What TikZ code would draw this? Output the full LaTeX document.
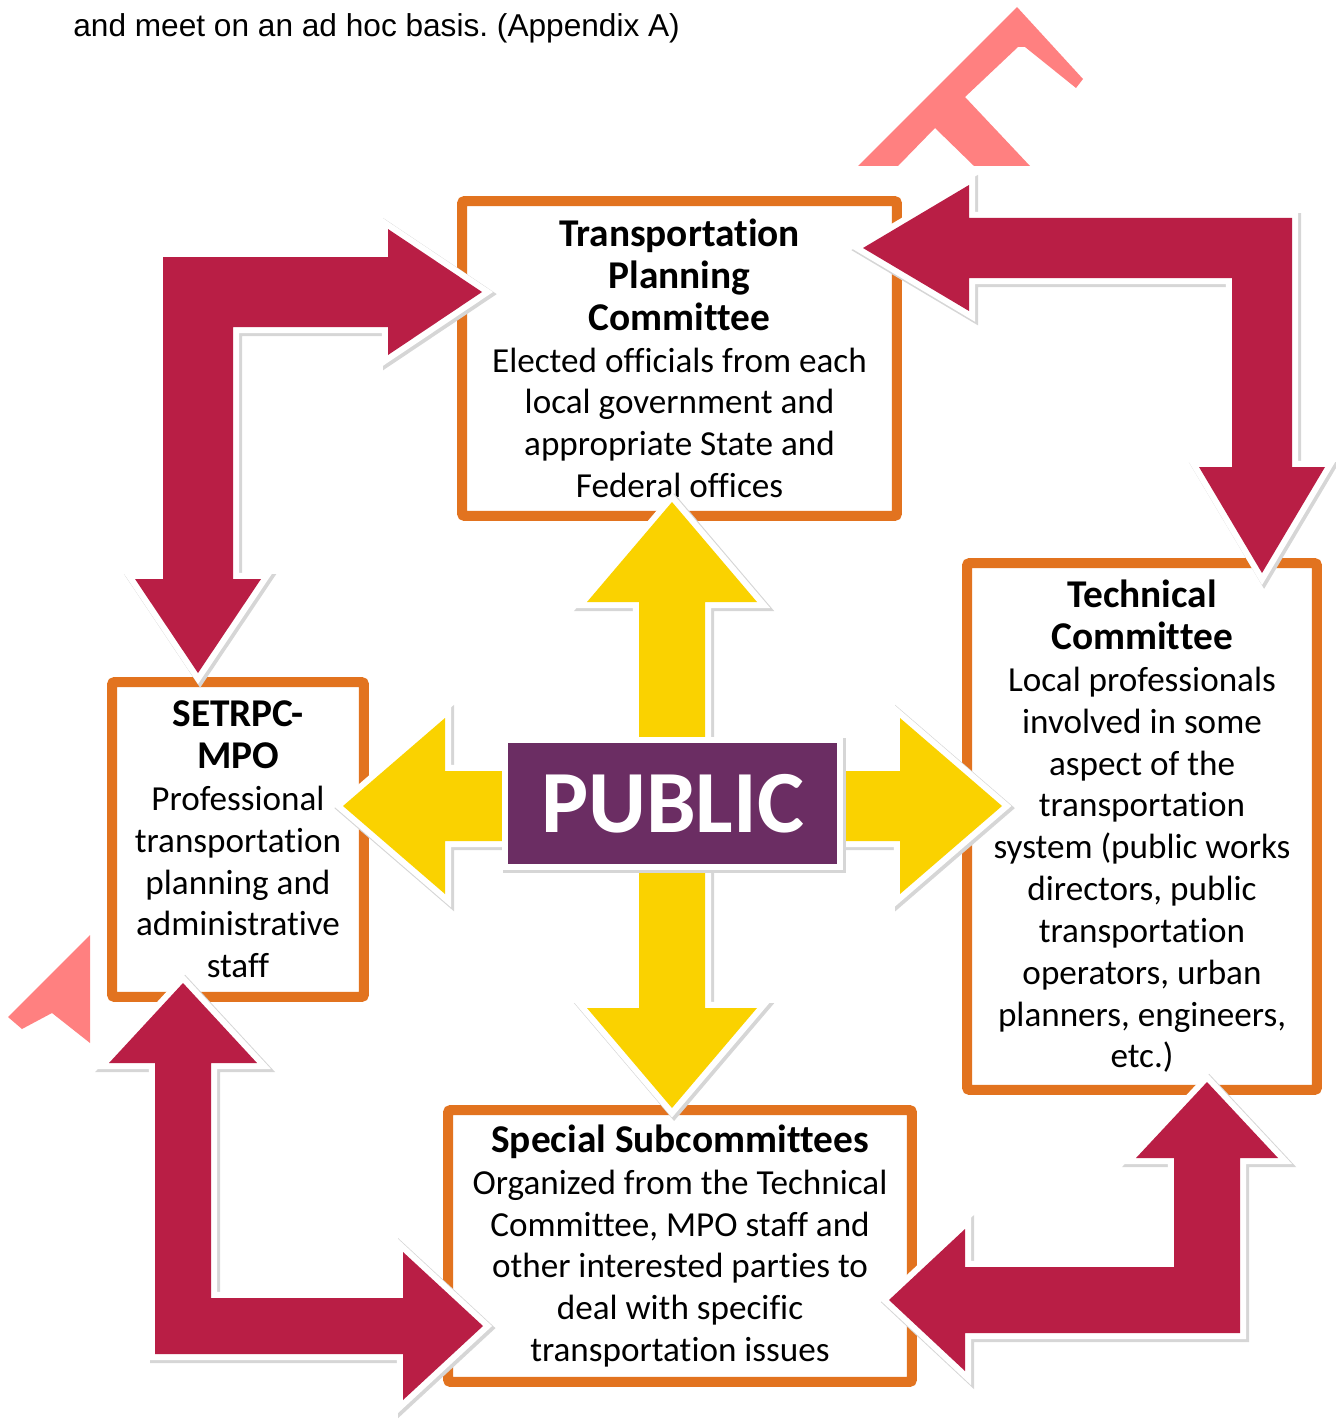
\documentclass[tikz,border=0pt]{standalone}
\usepackage{fontspec}
\setmainfont{Carlito}[Ligatures=NoCommon]
\newfontfamily\notefont{Liberation Sans}
\usepackage{tikz}
\usetikzlibrary{positioning}
\frenchspacing

\definecolor{boxorange}{HTML}{E2731F}
\definecolor{arrowred}{HTML}{B91E45}
\definecolor{arrowyellow}{HTML}{FAD200}
\definecolor{publicpurple}{HTML}{6B2D63}
\definecolor{markpink}{HTML}{FF8080}

\newcommand{\boxtitle}[1]{{\fontsize{22.4}{23.8}\selectfont\bfseries #1}}

% bent double arrow: colour, corner x, corner y, tip x, tip y, half bar, half head, head length
\newcommand{\elbowarrow}[8]{%
  \pgfmathsetmacro\dirx{2*(#4>#2)-1}%
  \pgfmathsetmacro\diry{2*(#5>#3)-1}%
  \fill[block, #1]
    ({#2-\dirx*#6},{#3-\diry*#6}) -- ({#4-\dirx*#8},{#3-\diry*#6})
    -- ({#4-\dirx*#8},{#3-\diry*#7}) -- (#4,#3)
    -- ({#4-\dirx*#8},{#3+\diry*#7}) -- ({#4-\dirx*#8},{#3+\diry*#6})
    -- ({#2+\dirx*#6},{#3+\diry*#6}) -- ({#2+\dirx*#6},{#5-\diry*#8})
    -- ({#2+\dirx*#7},{#5-\diry*#8}) -- (#2,#5)
    -- ({#2-\dirx*#7},{#5-\diry*#8}) -- ({#2-\dirx*#6},{#5-\diry*#8})
    -- cycle;}

\begin{document}
\begin{tikzpicture}[x=0.02cm, y=-0.02cm]
            \tikzstyle{committee} = [draw=boxorange, line width=5.7pt, fill=white, rounded corners=1.5pt, inner sep=0pt, align=center, font=\fontsize{20}{23.8}\selectfont]
            \tikzstyle{block} = [line join=miter,
                preaction={draw=black!16, line width=8pt, line join=miter, transform canvas={shift={(1.2pt,-1.2pt)}}},
                preaction={draw=white, line width=7pt, line join=miter}]
            \tikzstyle{public} = [fill=publicpurple, text=white, inner sep=0pt, minimum width=6.58cm, minimum height=2.42cm, font=\fontsize{50.5}{52}\selectfont\bfseries,
                preaction={draw=black!16, line width=8pt, transform canvas={shift={(1.2pt,-1.2pt)}}},
                preaction={draw=white, line width=6.8pt}]
            \useasboundingbox (0,0) rectangle (1335,1419);

            % Text above
            \node[anchor=base west, inner sep=0pt, font=\notefont\fontsize{18}{21}\selectfont] (note) at (73,37) {and meet on an ad hoc basis. (Appendix A)};

            % Marks
            \fill[markpink] (1017,7) -- (1083,79) -- (1076,88) -- (1025,47) -- (1018,47) -- (965,97) -- (1030,166) -- (974,166) -- (935,128) -- (898,166) -- (858,166) -- cycle;
            \fill[markpink] (90,935) -- (90,1043) -- (52,1013) -- (22,1029) -- (8,1017) -- cycle;

            % Committees
            \node[committee, minimum width=8.7cm, minimum height=6.3cm] (tpc) at (679.5,358.5)
                {\boxtitle{Transportation}\\ \boxtitle{Planning}\\ \boxtitle{Committee}\\ Elected officials from each\\ local government and\\ appropriate State and\\ Federal offices};
            \node[committee, minimum width=7cm, minimum height=10.54cm] (tech) at (1142,826.5)
                {\boxtitle{Technical}\\ \boxtitle{Committee}\\ Local professionals\\ involved in some\\ aspect of the\\ transportation\\ system (public works\\ directors, public\\ transportation\\ operators, urban\\ planners, engineers,\\ etc.)};
            \node[committee, minimum width=5.04cm, minimum height=6.3cm] (mpo) at (238,839.5)
                {\boxtitle{SETRPC-}\\ \boxtitle{MPO}\\ Professional\\ transportation\\ planning and\\ administrative\\ staff};
            \node[committee, minimum width=9.28cm, minimum height=5.44cm] (subc) at (680,1246)
                {\boxtitle{Special Subcommittees}\\ Organized from the Technical\\ Committee, MPO staff and\\ other interested parties to\\ deal with specific\\ transportation issues};

            % Public cross
            \fill[block, arrowyellow] (639,602) -- (587,602) -- (672,502) -- (757,602) -- (705,602) -- (705,1008) -- (757,1008) -- (672,1108) -- (587,1008) -- (639,1008) -- cycle;
            \fill[block, arrowyellow] (445,771) -- (445,718) -- (343,806) -- (445,894) -- (445,841) -- (900,841) -- (900,894) -- (1002,806) -- (900,718) -- (900,771) -- cycle;
            \node[public] (pub) at (672.5,803.5) {PUBLIC};

            % Bent arrows between committees
            \elbowarrow{arrowred}{198}{292}{482}{673}{35}{63}{94}
            \elbowarrow{arrowred}{1262}{248}{863}{573}{30}{63}{106}
            \elbowarrow{arrowred}{183}{1326}{483}{983}{28}{74}{80}
            \elbowarrow{arrowred}{1207}{1300}{889}{1082}{33}{71}{76}
\end{tikzpicture}
\end{document}
